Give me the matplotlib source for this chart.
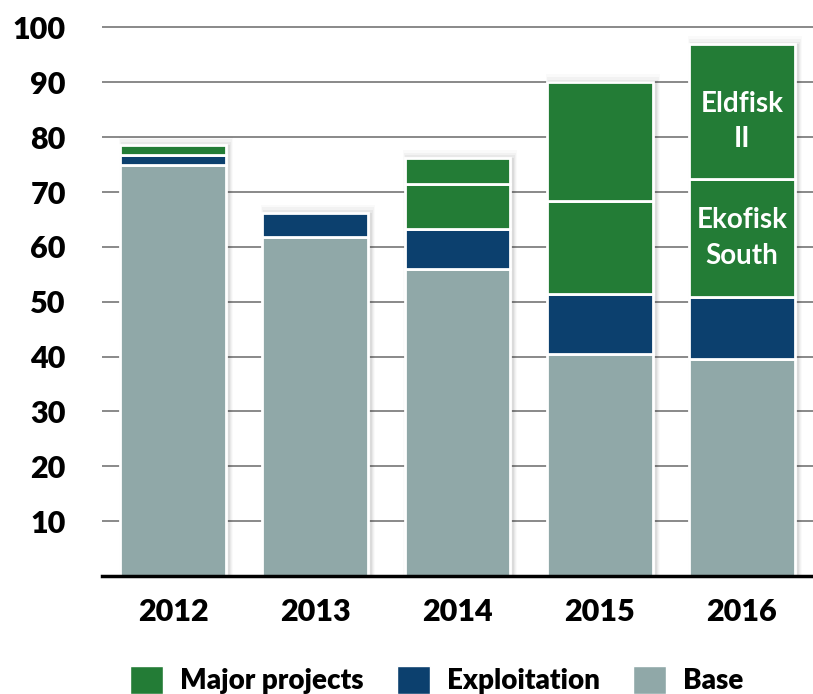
import matplotlib
matplotlib.use("Agg")
import matplotlib.pyplot as plt
from matplotlib.patches import Patch
import numpy as np

years = ['2012', '2013', '2014', '2015', '2016']
base = [74.9, 61.8, 55.9, 40.5, 39.6]
exploitation = [1.9, 4.4, 7.3, 10.9, 11.3]
major_1 = [1.8, 0.0, 8.3, 16.9, 21.5]
major_2 = [0.0, 0.0, 4.7, 21.7, 24.5]
yticks = [10, 20, 30, 40, 50, 60, 70, 80, 90, 100]
seg_labels = {4: ('Ekofisk\nSouth', 'Eldfisk\nII')}
legend_names = ['Major projects', 'Exploitation', 'Base']

c_green = '#237C36'
c_blue = '#0C406E'
c_gray = '#90A8A8'

W = 'heavy'
plt.rcParams['font.family'] = ['Lato', 'DejaVu Sans']
plt.rcParams['font.weight'] = W

fig = plt.figure(figsize=(8.13, 6.94), dpi=100)
ax = fig.add_axes([0.1255, 0.170, 0.8745, 0.830])

x = np.arange(len(years))
width = 0.745

# soft shadow behind bars
totals = np.array(base) + np.array(exploitation) + np.array(major_1) + np.array(major_2)
for k, a in enumerate([0.05, 0.04, 0.03, 0.02]):
    grow = 0.014 * (k + 1)
    ax.bar(x + 0.02, totals + 0.5 * (k + 1), width=width + grow, bottom=-0.5,
           color='#000000', alpha=a, linewidth=0, zorder=1)

def draw(vals, bottoms, color):
    vals = np.array(vals)
    m = vals > 0
    ax.bar(x[m], vals[m], width=width, bottom=np.array(bottoms)[m], color=color,
           edgecolor='white', linewidth=2.0, zorder=3)

b0 = np.zeros(len(years))
draw(base, b0, c_gray)
b1 = b0 + np.array(base)
draw(exploitation, b1, c_blue)
b2 = b1 + np.array(exploitation)
draw(major_1, b2, c_green)
b3 = b2 + np.array(major_1)
draw(major_2, b3, c_green)

for i, (l1, l2) in seg_labels.items():
    ax.text(x[i], b3[i] - major_1[i] / 2, l1, ha='center', va='center', color='white',
            fontsize=20, fontweight='bold', linespacing=1.45, zorder=5)
    ax.text(x[i], b3[i] + major_2[i] / 2 - 1.8, l2, ha='center', va='center', color='white',
            fontsize=20, fontweight='bold', linespacing=1.45, zorder=5)

ax.set_xlim(-0.5, 4.5)
ax.set_ylim(0, 105)
ax.set_yticks(yticks)
ax.set_yticklabels([str(t) for t in yticks], fontsize=22, fontweight=W)
ax.set_xticks(x)
ax.set_xticklabels(years, fontsize=22, fontweight=W)
ax.tick_params(axis='y', length=0, pad=26)
ax.tick_params(axis='x', length=0, pad=16)
ax.yaxis.grid(True, color='#808080', linewidth=1.3, zorder=0)
ax.set_axisbelow(True)
for s in ['top', 'right', 'left']:
    ax.spines[s].set_visible(False)
ax.spines['bottom'].set_linewidth(2.5)
ax.spines['bottom'].set_color('black')
ax.spines['bottom'].set_zorder(6)

handles = [Patch(facecolor=c_green, edgecolor='white'),
           Patch(facecolor=c_blue, edgecolor='white'),
           Patch(facecolor=c_gray, edgecolor='white')]
fig.legend(handles, legend_names, loc='center', bbox_to_anchor=(0.537, 0.02),
           ncol=3, frameon=False, handlelength=1.2, handleheight=1.2,
           columnspacing=1.2, handletextpad=0.6,
           prop={'weight': W, 'size': 20})

fig.savefig('out.png', dpi=100)
